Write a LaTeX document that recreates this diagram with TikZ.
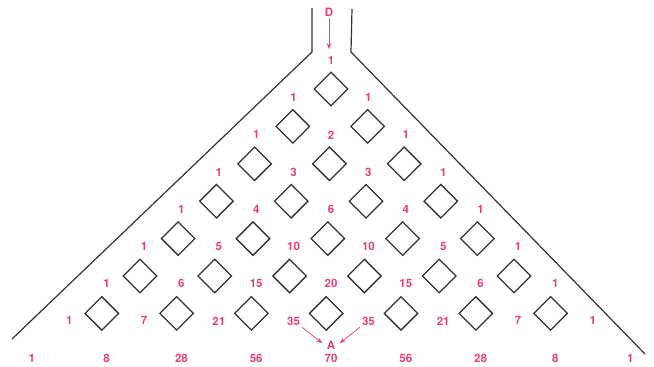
\documentclass[tikz,border=0pt]{standalone}
\usepackage{fontspec}
\setmainfont{TeX Gyre Heros}
\usetikzlibrary{shapes.geometric,arrows.meta}
\definecolor{pk}{RGB}{232,62,124}
\definecolor{wallc}{RGB}{50,50,50}
\begin{document}
\begin{tikzpicture}[x=1pt,y=-1pt,
  num/.style={text=pk,font=\bfseries\fontsize{11.5}{12}\selectfont,inner sep=2pt},
  peg/.style={draw=wallc,line width=1.3pt,diamond,minimum width=34pt,minimum height=34pt,inner sep=0pt,aspect=1},
  wallline/.style={draw=wallc,line width=1.2pt},
  arr/.style={draw=pk,line width=0.7pt,-{Stealth[length=6pt,width=4.5pt]}}]
\useasboundingbox (0,0) rectangle (654,367);
% funnel walls
\draw[wallline] (312,8) -- (312,52) -- (12,339);
\draw[wallline] (352,9) -- (351,52) -- (645,354);
% pegs
\foreach \k in {0,...,6}{
  \foreach \j in {0,...,\k}{
    \node[peg] (p\k\j) at ({331-0.8*\k+37.4*(2*\j-\k)},{89+37.4*\k}) {};
  }
}
% numbers
\foreach \row [count=\n from 0] in {{1},{1,1},{1,2,1},{1,3,3,1},{1,4,6,4,1},{1,5,10,10,5,1},{1,6,15,20,15,6,1},{1,7,21,35,35,21,7,1},{1,8,28,56,70,56,28,8,1}}{
  \foreach \v [count=\j from 0] in \row {
    \node[num] (n\n\j) at ({331+37.4*(2*\j-\n)},{60.5+37.2*\n}) {\v};
  }
}
% D and A
\node[num] (D) at (329,12) {D};
\draw[arr,shorten >=5pt] (D.south) -- (D.south |- n00.north);
\node[num] (A) at (331,345) {A};
\draw[arr,shorten >=3pt] (n73.south east) -- (A.west);
\draw[arr,shorten >=3pt] (n74.south west) -- (A.east);
\end{tikzpicture}
\end{document}
